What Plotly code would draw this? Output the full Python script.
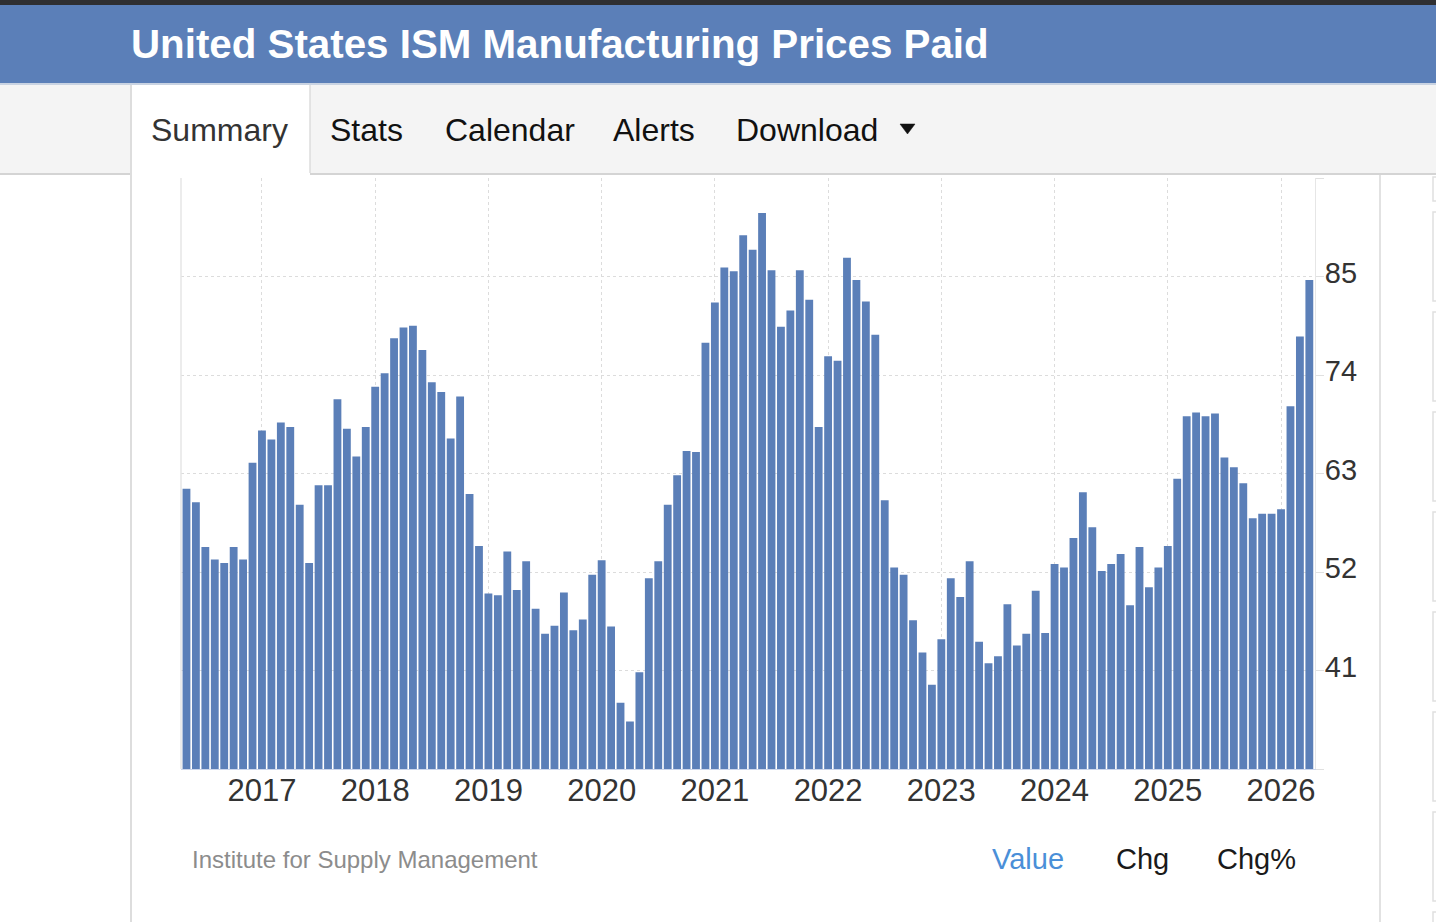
import pandas as pd
import plotly.graph_objects as go

# ---------------- data ----------------
months = list(pd.date_range("2016-05-01", periods=120, freq="MS").strftime("%Y-%m"))

v2016 = [61.3, 59.8, 54.8, 53.4, 53.0, 54.8, 53.4, 64.2]            # May-Dec
v2017 = [67.8, 66.8, 68.7, 68.2, 59.5, 53.0, 61.7, 61.7, 71.3, 68.0, 64.9, 68.2]
v2018 = [72.7, 74.2, 78.1, 79.3, 79.5, 76.8, 73.2, 72.1, 66.9, 71.6, 60.7, 54.9]
v2019 = [49.6, 49.4, 54.3, 50.0, 53.2, 47.9, 45.1, 46.0, 49.7, 45.5, 46.7, 51.7]
v2020 = [53.3, 45.9, 37.4, 35.3, 40.8, 51.3, 53.2, 59.5, 62.8, 65.5, 65.4, 77.6]
v2021 = [82.1, 86.0, 85.6, 89.6, 88.0, 92.1, 85.7, 79.4, 81.2, 85.7, 82.4, 68.2]
v2022 = [76.1, 75.6, 87.1, 84.6, 82.2, 78.5, 60.0, 52.5, 51.7, 46.6, 43.0, 39.4]
v2023 = [44.5, 51.3, 49.2, 53.2, 44.2, 41.8, 42.6, 48.4, 43.8, 45.1, 49.9, 45.2]
v2024 = [52.9, 52.5, 55.8, 60.9, 57.0, 52.1, 52.9, 54.0, 48.3, 54.8, 50.3, 52.5]
v2025 = [54.9, 62.4, 69.4, 69.8, 69.4, 69.7, 64.8, 63.7, 61.9, 58.0, 58.5, 58.5]
v2026 = [59.0, 70.5, 78.3, 84.6]                                      # Jan-Apr
values = v2016 + v2017 + v2018 + v2019 + v2020 + v2021 + v2022 + v2023 + v2024 + v2025 + v2026

year_ticks = ["2017-01", "2018-01", "2019-01", "2020-01", "2021-01",
              "2022-01", "2023-01", "2024-01", "2025-01", "2026-01"]
year_labels = ["2017", "2018", "2019", "2020", "2021", "2022", "2023", "2024", "2025", "2026"]
y_tickvals = [30, 41, 52, 63, 74, 85, 96]
y_ticktext = ["", "41", "52", "63", "74", "85", ""]

title = "United States ISM Manufacturing Prices Paid"
tabs = ["Summary", "Stats", "Calendar", "Alerts", "Download"]
source = "Institute for Supply Management"
modes = ["Value", "Chg", "Chg%"]

# ---------------- layout helpers ----------------
W, H = 1436, 922
def X(px):
    return px / W
def Y(py):
    return 1 - py / H

FONT = "Liberation Sans, Arial, Helvetica, sans-serif"
BLUE = "#5b7fb8"

fig = go.Figure()
fig.add_trace(go.Bar(
    x=months, y=values,
    marker=dict(color=BLUE, line=dict(width=0)),
    hoverinfo="x+y",
))

shapes = []
def rect(x0, y0, x1, y1, fill, line=None, lw=0, layer="below"):
    shapes.append(dict(type="rect", xref="paper", yref="paper",
                       x0=X(x0), x1=X(x1), y0=Y(y1), y1=Y(y0),
                       fillcolor=fill, line=dict(color=line or fill, width=lw),
                       layer=layer))
def line(x0, y0, x1, y1, color, w=1, layer="below"):
    shapes.append(dict(type="line", xref="paper", yref="paper",
                       x0=X(x0), x1=X(x1), y0=Y(y0), y1=Y(y1),
                       line=dict(color=color, width=w), layer=layer))

# header
rect(0, 0, W, 5, "#2f2f31")
rect(0, 5, W, 83, "#5b7fb8")
rect(0, 83, W, 85, "#c9d3e2")
# tab bar
rect(0, 85, W, 173, "#f4f4f4")
line(0, 174, W, 174, "#d4d4d4", 2)
rect(131, 85, 310, 175, "#ffffff")
line(131, 85, 131, 922, "#dddddd", 2)
line(310, 85, 310, 173, "#dddddd", 1.5)
# right panel border
line(1380, 175, 1380, 922, "#e2e2e2", 2)
# side cards partially visible on the right edge
for k in range(9):
    top = 112 + 100 * k
    bot = top + 89
    t = max(top, 177)
    if bot <= t:
        continue
    shapes.append(dict(type="rect", xref="paper", yref="paper",
                       x0=X(1433), x1=X(1446), y0=Y(bot), y1=Y(t),
                       fillcolor="rgba(0,0,0,0)", line=dict(color="#e0e0e0", width=1.5),
                       layer="below"))
# left plot border
line(181, 178, 181, 769, "#e6e6e6", 1.5, layer="above")
# dropdown triangle
tri = f"M {X(900)},{Y(124)} L {X(915)},{Y(124)} L {X(907.5)},{Y(134)} Z"
shapes.append(dict(type="path", xref="paper", yref="paper", path=tri,
                   fillcolor="#111111", line=dict(color="#111111", width=0.5)))

annotations = []
def text(s, x, y, size, color, weight=400, anchor="left"):
    annotations.append(dict(text=s, xref="paper", yref="paper", x=X(x), y=Y(y),
                            xanchor=anchor, yanchor="middle", showarrow=False,
                            font=dict(family=FONT, size=size, color=color, weight=weight)))

text(title, 129, 44, 40.3, "#ffffff", 700)
tab_x = [152, 331, 446, 614, 737]
for name, tx in zip(tabs, tab_x):
    text(name, tx - 3, 130, 32, "#333333" if name == "Summary" else "#111111")
text(source, 190, 859, 24, "#8c8c8c")
mode_x = [990, 1114, 1215]
mode_c = ["#4a8fd8", "#1a1a1a", "#1a1a1a"]
for name, mx, mc in zip(modes, mode_x, mode_c):
    text(name, mx, 859, 29, mc)

fig.update_layout(
    width=W, height=H, autosize=False,
    margin=dict(l=0, r=0, t=0, b=0),
    paper_bgcolor="#ffffff", plot_bgcolor="#ffffff",
    bargap=0.17, showlegend=False,
    font=dict(family=FONT, color="#333333"),
    shapes=shapes, annotations=annotations,
    xaxis=dict(
        domain=[X(181), X(1315)], type="category",
        range=[-0.58, 119.6],
        tickmode="array", tickvals=year_ticks, ticktext=year_labels,
        tickfont=dict(family=FONT, size=31, color="#333333"),
        ticklabelstandoff=-6,
        showgrid=True, gridcolor="#dcdcdc", griddash="dot", gridwidth=1,
        showline=True, linecolor="#ccd6eb", linewidth=1,
        ticks="", zeroline=False, fixedrange=True,
    ),
    yaxis=dict(
        domain=[Y(769), Y(178)], side="right",
        range=[30, 96],
        tickmode="array", tickvals=y_tickvals, ticktext=y_ticktext,
        tickfont=dict(family=FONT, size=29, color="#333333"),
        ticklabelstandoff=-5, ticklabelshift=-4,
        showgrid=True, gridcolor="#dcdcdc", griddash="dot", gridwidth=1,
        showline=True, linecolor="#e6e6e6", linewidth=1,
        ticks="outside", ticklen=8, tickcolor="#e0e0e0",
        zeroline=False, fixedrange=True,
    ),
)

fig.write_html("out.html", config={"displayModeBar": False})
